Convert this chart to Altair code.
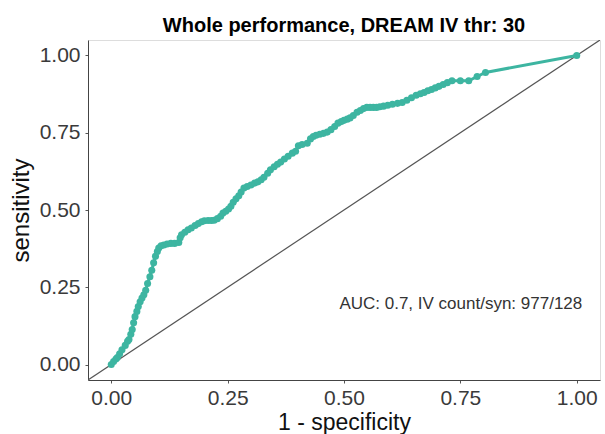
import altair as alt
import pandas as pd

fpr = [0.000, 0.005, 0.010, 0.013, 0.018, 0.023, 0.030, 0.035, 0.038, 0.042,
       0.045, 0.048, 0.051, 0.055, 0.058, 0.062, 0.066, 0.070, 0.074, 0.078,
       0.083, 0.087, 0.091, 0.095, 0.099, 0.102, 0.107, 0.113, 0.120, 0.128,
       0.136, 0.145, 0.148, 0.151, 0.158, 0.165, 0.172, 0.180, 0.187, 0.194,
       0.200, 0.208, 0.215, 0.221, 0.228, 0.235, 0.240, 0.246, 0.252, 0.257,
       0.262, 0.268, 0.274, 0.279, 0.285, 0.292, 0.300, 0.308, 0.315, 0.322,
       0.328, 0.336, 0.342, 0.350, 0.357, 0.364, 0.372, 0.380, 0.389, 0.396,
       0.402, 0.410, 0.421, 0.428, 0.434, 0.440, 0.448, 0.456, 0.464, 0.472,
       0.480, 0.487, 0.494, 0.500, 0.507, 0.513, 0.520, 0.528, 0.535, 0.542,
       0.549, 0.556, 0.563, 0.570, 0.577, 0.585, 0.594, 0.604, 0.615, 0.625,
       0.635, 0.645, 0.655, 0.664, 0.672, 0.680, 0.688, 0.696, 0.704, 0.713,
       0.722, 0.732, 0.750, 0.768, 0.786, 0.804, 1.000]
tpr = [0.000, 0.010, 0.018, 0.023, 0.035, 0.048, 0.062, 0.075, 0.081, 0.098,
       0.113, 0.135, 0.155, 0.172, 0.188, 0.203, 0.215, 0.226, 0.240, 0.262,
       0.284, 0.305, 0.329, 0.350, 0.366, 0.377, 0.384, 0.387, 0.390, 0.392,
       0.392, 0.395, 0.410, 0.420, 0.428, 0.436, 0.442, 0.450, 0.456, 0.462,
       0.465, 0.466, 0.466, 0.467, 0.472, 0.480, 0.490, 0.496, 0.503, 0.512,
       0.525, 0.536, 0.546, 0.558, 0.571, 0.576, 0.581, 0.587, 0.591, 0.598,
       0.606, 0.619, 0.630, 0.640, 0.648, 0.655, 0.665, 0.674, 0.684, 0.690,
       0.708, 0.712, 0.716, 0.730, 0.738, 0.742, 0.745, 0.748, 0.752, 0.760,
       0.770, 0.781, 0.786, 0.790, 0.794, 0.798, 0.806, 0.816, 0.822, 0.828,
       0.832, 0.832, 0.832, 0.832, 0.834, 0.836, 0.839, 0.842, 0.845, 0.848,
       0.855, 0.863, 0.871, 0.876, 0.880, 0.886, 0.890, 0.895, 0.900, 0.906,
       0.912, 0.918, 0.918, 0.918, 0.932, 0.945, 1.000]

diag_vals = [-0.05, 1.05]
ticks = [0.0, 0.25, 0.5, 0.75, 1.0]
annot_text = ["AUC: 0.7, IV count/syn: 977/128"]
annot_x = [0.751]
annot_y = [0.197]

TEAL = "#3db5a1"
FONT = "Liberation Sans"

roc = pd.DataFrame({"fpr": fpr, "tpr": tpr, "order": list(range(len(fpr)))})
diag = pd.DataFrame({"x": [diag_vals[0]], "y": [diag_vals[0]],
                     "x2": [diag_vals[1]], "y2": [diag_vals[1]]})
annot = pd.DataFrame({"x": annot_x, "y": annot_y, "t": annot_text})

xscale = alt.Scale(domain=[-0.05, 1.05], nice=False, zero=False)
yscale = alt.Scale(domain=[-0.05, 1.05], nice=False, zero=False)

xaxis = alt.Axis(values=ticks, format=".2f", grid=False, title="1 - specificity",
                 labelFontSize=21, labelColor="#3a3a3a", labelFont=FONT,
                 labelPadding=4, tickSize=3, tickColor="#555555", domainColor="#444444",
                 titleFontSize=23, titleFont=FONT, titleFontWeight="normal", titleColor="#111111",
                 titleY=31, titleBaseline="top", labelFlush=False)
yaxis = alt.Axis(values=ticks, format=".2f", grid=False, title="sensitivity",
                 labelFontSize=21, labelColor="#3a3a3a", labelFont=FONT,
                 labelPadding=5, tickSize=3, tickColor="#555555", domainColor="#444444",
                 titleFontSize=24, titleFont=FONT, titleFontWeight="normal", titleColor="#111111",
                 titleX=-67, titleY=170, titleAngle=-90, titleBaseline="middle", labelFlush=False)

diag_layer = alt.Chart(diag).mark_rule(color="#555555", strokeWidth=1.2, clip=True).encode(
    x=alt.X("x:Q", scale=xscale, axis=xaxis),
    y=alt.Y("y:Q", scale=yscale, axis=yaxis),
    x2="x2:Q", y2="y2:Q")

line_layer = alt.Chart(roc).mark_line(color=TEAL, strokeWidth=3).encode(
    x=alt.X("fpr:Q", scale=xscale, axis=xaxis),
    y=alt.Y("tpr:Q", scale=yscale, axis=yaxis),
    order="order:Q")

point_layer = alt.Chart(roc).mark_circle(color=TEAL, size=50, opacity=1).encode(
    x=alt.X("fpr:Q", scale=xscale, axis=xaxis),
    y=alt.Y("tpr:Q", scale=yscale, axis=yaxis))

text_layer = alt.Chart(annot).mark_text(fontSize=17, font=FONT, color="#333333",
                                        align="center", baseline="middle").encode(
    x=alt.X("x:Q", scale=xscale), y=alt.Y("y:Q", scale=yscale), text="t:N")

chart = alt.layer(diag_layer, line_layer, point_layer, text_layer).properties(
    width=512, height=340,
    title=alt.TitleParams("Whole performance, DREAM IV thr: 30", fontSize=20, font=FONT,
                          fontWeight="bold", color="#000000", anchor="middle", frame="group", dy=0),
    autosize=alt.AutoSizeParams(type="none"),
    padding={"left": 88, "top": 40, "right": 5, "bottom": 54},
).configure_view(stroke=None).configure(background="white")

chart.save("out.html", embed_options={"renderer": "svg", "actions": False})
